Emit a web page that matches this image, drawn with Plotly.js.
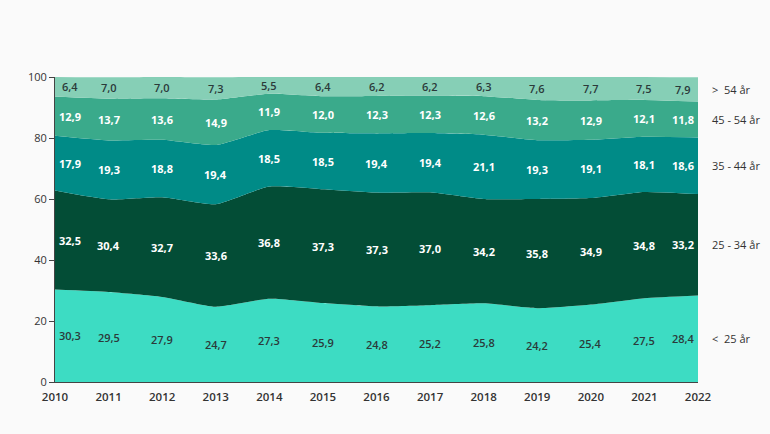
<!DOCTYPE html>
<html>
<head>
<meta charset="utf-8">
<script src="https://cdn.plot.ly/plotly-3.0.1.min.js"></script>
<style>html,body{margin:0;padding:0;background:#fafafa;}</style>
</head>
<body>
<div id="chart" style="width:770px;height:434px;"></div>
<script>
const years = [2010,2011,2012,2013,2014,2015,2016,2017,2018,2019,2020,2021,2022];
const under25 = [30.3,29.5,27.9,24.7,27.3,25.9,24.8,25.2,25.8,24.2,25.4,27.5,28.4];
const age25_34 = [32.5,30.4,32.7,33.6,36.8,37.3,37.3,37.0,34.2,35.8,34.9,34.8,33.2];
const age35_44 = [17.9,19.3,18.8,19.4,18.5,18.5,19.4,19.4,21.1,19.3,19.1,18.1,18.6];
const age45_54 = [12.9,13.7,13.6,14.9,11.9,12.0,12.3,12.3,12.6,13.2,12.9,12.1,11.8];
const over54 = [6.4,7.0,7.0,7.3,5.5,6.4,6.2,6.2,6.3,7.6,7.7,7.5,7.9];
const seriesNames = ["<  25 år","25 - 34 år","35 - 44 år","45 - 54 år",">  54 år"];
const seriesValues = [under25, age25_34, age35_44, age45_54, over54];
const colors = ["#3ddcc3","#034d36","#008b87","#3aaa8b","#86cfb6"];
const labelColors = ["#2b3a3a","#ffffff","#ffffff","#ffffff","#2b3a3a"];

const traces = seriesValues.map((vals, i) => ({
  x: years, y: vals, name: seriesNames[i], type: 'scatter', mode: 'lines',
  stackgroup: 'one', fill: 'tonexty', fillcolor: colors[i],
  line: {width: 0, shape: 'spline', smoothing: 0.5, color: colors[i]},
  hoverinfo: 'skip', showlegend: false
}));

const fmt = v => v.toFixed(1).replace('.', ',');
const annotations = [];
const cum = years.map(() => 0);
seriesValues.forEach((vals, i) => {
  vals.forEach((v, j) => {
    const mid = cum[j] + v / 2;
    let xs = 0;
    if (j === 0) xs = 15;
    if (j === years.length - 1) xs = -15;
    annotations.push({
      x: years[j], y: mid, xref: 'x', yref: 'y', text: fmt(v), showarrow: false,
      xshift: xs,
      font: {family: 'Open Sans, sans-serif', size: 11, color: labelColors[i], weight: (labelColors[i] === '#ffffff') ? 700 : 600}
    });
    if (j === years.length - 1) {
      annotations.push({
        x: 1, xref: 'paper', y: mid, yref: 'y', text: seriesNames[i], showarrow: false,
        xanchor: 'left', xshift: 12,
        font: {family: 'Open Sans, sans-serif', size: 11, color: '#333333'}
      });
    }
    cum[j] += v;
  });
});

const layout = {
  width: 770, height: 434,
  paper_bgcolor: '#fafafa', plot_bgcolor: '#fafafa',
  margin: {l: 55, r: 72, t: 77, b: 52},
  showlegend: false,
  font: {family: 'Open Sans, sans-serif', size: 11, color: '#333333'},
  xaxis: {
    range: [2010, 2022], tickmode: 'array', tickvals: years, ticktext: years.map(String),
    showgrid: false, zeroline: false, showline: true, linecolor: '#444', linewidth: 1,
    ticks: '', ticklabelstandoff: 4, tickfont: {size: 11.5, color: '#333333', weight: 600}, fixedrange: true
  },
  yaxis: {
    range: [0, 100], tickvals: [0,20,40,60,80,100], showgrid: false, zeroline: false,
    showline: true, linecolor: '#444', linewidth: 1, ticks: 'outside', ticklen: 5,
    tickcolor: '#444', tickfont: {size: 11, color: '#333333'}, fixedrange: true
  },
  annotations: annotations
};

Plotly.newPlot('chart', traces, layout, {displayModeBar: false, staticPlot: true});
</script>
</body>
</html>
